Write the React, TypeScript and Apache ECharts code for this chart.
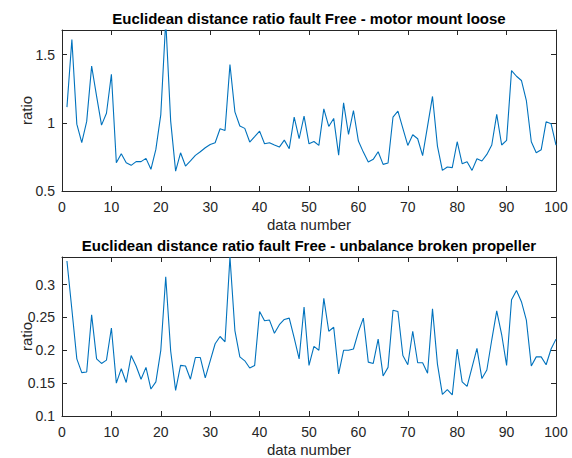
import React, { useEffect, useRef } from "react";
import * as echarts from "echarts";

const topTitle = "Euclidean distance ratio fault Free - motor mount loose";
const bottomTitle = "Euclidean distance ratio fault Free - unbalance broken propeller";

const motorMountLoose = [
  1.115, 1.61, 0.99, 0.854, 1.01, 1.415, 1.195, 0.983, 1.07, 1.355,
  0.707, 0.773, 0.707, 0.688, 0.715, 0.715, 0.739, 0.659, 0.805, 1.06,
  1.75, 1.012, 0.646, 0.78, 0.683, 0.72, 0.761, 0.788, 0.817, 0.841,
  0.854, 0.956, 0.944, 1.427, 1.08, 0.976, 0.959, 0.859, 0.898, 0.939,
  0.846, 0.854, 0.837, 0.822, 0.873, 0.81, 1.041, 0.883, 1.049, 0.846,
  0.863, 0.834, 1.102, 0.973, 1.032, 0.763, 1.146, 0.915, 1.09, 0.866,
  0.785, 0.712, 0.732, 0.788, 0.695, 0.705, 1.041, 1.085, 0.959, 0.834,
  0.912, 0.883, 0.759, 0.976, 1.193, 0.829, 0.651, 0.676, 0.671, 0.861,
  0.7, 0.715, 0.651, 0.737, 0.72, 0.768, 0.837, 1.061, 0.837, 0.871,
  1.383, 1.341, 1.31, 1.163, 0.861, 0.78, 0.802, 1.007, 0.993, 0.837,
];

const unbalanceBrokenPropeller = [
  0.336, 0.262, 0.187, 0.166, 0.167, 0.254, 0.187, 0.18, 0.185, 0.234,
  0.15, 0.172, 0.151, 0.192, 0.176, 0.156, 0.174, 0.141, 0.152, 0.2,
  0.312, 0.199, 0.139, 0.177, 0.176, 0.156, 0.189, 0.189, 0.158, 0.184,
  0.21, 0.221, 0.213, 0.342, 0.23, 0.19, 0.184, 0.173, 0.177, 0.259,
  0.245, 0.246, 0.226, 0.239, 0.247, 0.249, 0.219, 0.187, 0.266, 0.177,
  0.206, 0.2, 0.279, 0.229, 0.235, 0.164, 0.2, 0.2, 0.202, 0.228,
  0.249, 0.182, 0.18, 0.217, 0.161, 0.174, 0.261, 0.259, 0.192, 0.178,
  0.229, 0.181, 0.181, 0.165, 0.263, 0.179, 0.133, 0.14, 0.132, 0.202,
  0.152, 0.145, 0.174, 0.203, 0.157, 0.17, 0.216, 0.26, 0.224, 0.177,
  0.277, 0.291, 0.274, 0.246, 0.176, 0.19, 0.19, 0.178, 0.202, 0.217,
];

const xTicks = [0, 10, 20, 30, 40, 50, 60, 70, 80, 90, 100];
const topYRange = [0.5, 1.68];
const bottomYRange = [0.1, 0.342];

const FONT = "Liberation Sans, Arial, Helvetica, sans-serif";
const AX = "#262626";
const LINE = "#0072BD";

export default function App() {
  const ref = useRef<HTMLDivElement>(null);
  useEffect(() => {
    document.body.style.margin = "0";
    const chart = echarts.init(ref.current!, undefined, { renderer: "svg" });
    const grids = [
      { left: 62, right: 16, top: 30, height: 161 },
      { left: 62, right: 16, top: 257, height: 160 },
    ];
    const xAxes: any[] = [];
    const yAxes: any[] = [];
    const yRanges = [topYRange, bottomYRange];
    const yIntervals = [0.5, 0.05];
    [0, 1].forEach((g) => {
      const base = {
        type: "value",
        gridIndex: g,
        min: xTicks[0],
        max: xTicks[xTicks.length - 1],
        interval: 10,
        splitLine: { show: false },
        axisLine: { show: true, onZero: false, lineStyle: { color: AX, width: 1 } },
        axisTick: { show: true, inside: true, length: 5, lineStyle: { color: AX } },
      };
      xAxes.push({
        ...base,
        position: "bottom",
        name: "data number",
        nameLocation: "middle",
        nameGap: 26,
        nameMoveOverlap: false,
        nameTextStyle: { color: AX, fontSize: 15, fontFamily: FONT },
        axisLabel: { color: AX, fontSize: 14, fontFamily: FONT, margin: 9 },
      });
      xAxes.push({ ...base, position: "top", axisLabel: { show: false } });
      const ybase = {
        type: "value",
        gridIndex: g,
        min: yRanges[g][0],
        max: yRanges[g][1],
        interval: yIntervals[g],
        splitLine: { show: false },
        axisLine: { show: true, onZero: false, lineStyle: { color: AX, width: 1 } },
        axisTick: { show: true, inside: true, length: 5, lineStyle: { color: AX } },
      };
      yAxes.push({
        ...ybase,
        position: "left",
        name: "ratio",
        nameLocation: "middle",
        nameGap: 28,
        nameMoveOverlap: false,
        nameRotate: 90,
        nameTextStyle: { color: AX, fontSize: 15, fontFamily: FONT },
        axisLabel: {
          color: AX,
          fontSize: 14,
          fontFamily: FONT,
          margin: 7,
          showMaxLabel: false,
          formatter: (v: number) => String(parseFloat(v.toFixed(3))),
        },
      });
      yAxes.push({ ...ybase, position: "right", axisLabel: { show: false } });
    });

    const toPoints = (arr: number[]) => arr.map((v, i) => [i + 1, v]);

    chart.setOption({
      animation: false,
      backgroundColor: "#ffffff",
      grid: grids,
      xAxis: xAxes,
      yAxis: yAxes,
      graphic: [
        {
          type: "text",
          x: 309,
          y: 18,
          style: {
            text: topTitle,
            font: `bold 15px ${FONT}`,
            fill: "#000000",
            textAlign: "center",
            textVerticalAlign: "middle",
          },
        },
        {
          type: "text",
          x: 309,
          y: 245,
          style: {
            text: bottomTitle,
            font: `bold 15px ${FONT}`,
            fill: "#000000",
            textAlign: "center",
            textVerticalAlign: "middle",
          },
        },
      ],
      series: [
        {
          type: "line",
          xAxisIndex: 0,
          yAxisIndex: 0,
          data: toPoints(motorMountLoose),
          showSymbol: false,
          symbol: "none",
          clip: true,
          lineStyle: { color: LINE, width: 1.1 },
        },
        {
          type: "line",
          xAxisIndex: 2,
          yAxisIndex: 2,
          data: toPoints(unbalanceBrokenPropeller),
          showSymbol: false,
          symbol: "none",
          clip: true,
          lineStyle: { color: LINE, width: 1.1 },
        },
      ],
    });
    return () => chart.dispose();
  }, []);
  return <div ref={ref} style={{ width: 572, height: 458 }} />;
}
